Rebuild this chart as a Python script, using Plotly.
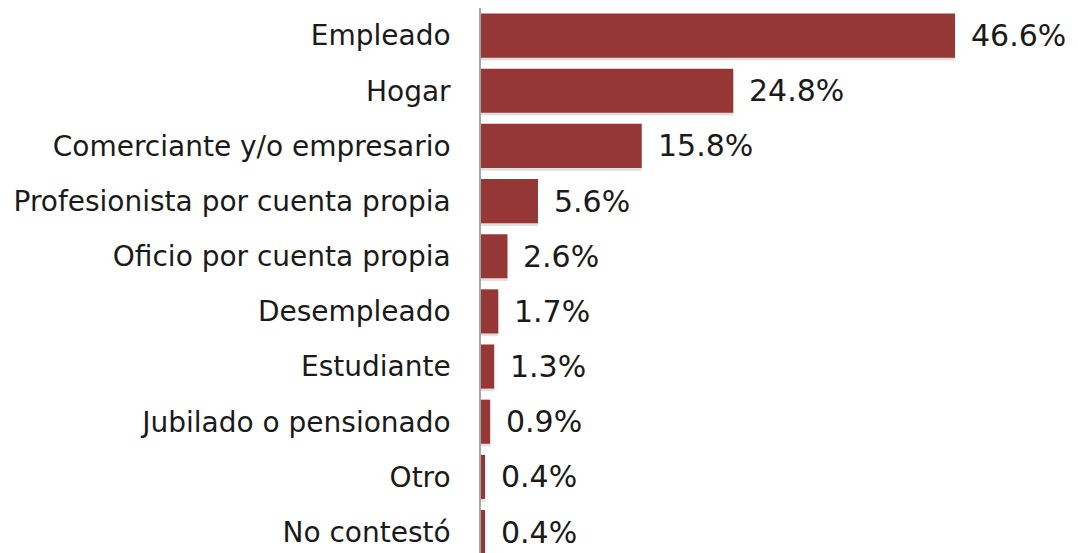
import plotly.graph_objects as go

categories = ["Empleado", "Hogar", "Comerciante y/o empresario",
              "Profesionista por cuenta propia", "Oficio por cuenta propia",
              "Desempleado", "Estudiante", "Jubilado o pensionado", "Otro",
              "No contestó"]
values = [46.6, 24.8, 15.8, 5.6, 2.6, 1.7, 1.3, 0.9, 0.4, 0.4]
value_labels = [f"{v:.1f}%" for v in values]

pos = list(range(len(categories)))
bar_color = "#953735"
font_family = "DejaVu Sans, Verdana, sans-serif"

fig = go.Figure()
# soft shadow behind bars
fig.add_trace(go.Bar(
    y=pos, x=values, orientation="h", width=0.8, offset=-0.35,
    marker=dict(color="rgba(0,0,0,0.12)", line=dict(width=0)),
    hoverinfo="skip", showlegend=False,
))
fig.add_trace(go.Bar(
    y=pos, x=values, orientation="h", width=0.8, offset=-0.4,
    marker=dict(color=bar_color, line=dict(width=0)),
    showlegend=False,
))

for p, v, t in zip(pos, values, value_labels):
    fig.add_annotation(x=v, y=p, text=t, xanchor="left", yanchor="middle",
                       xshift=14, showarrow=False,
                       font=dict(size=30, color="#1a1a1a", family=font_family))

fig.update_layout(
    width=1078, height=553,
    margin=dict(l=473, r=15, t=0, b=8),
    paper_bgcolor="white", plot_bgcolor="white",
    barmode="overlay",
    font=dict(family=font_family, color="#1a1a1a"),
)
fig.update_xaxes(range=[0, 58], visible=False, showgrid=False, zeroline=False)
fig.update_yaxes(
    range=[9.38, -0.5], tickmode="array", tickvals=pos, ticktext=categories,
    showgrid=False, zeroline=False, showline=True, linecolor="#a6a6a6",
    linewidth=1.5, ticks="", ticklabelstandoff=23,
    tickfont=dict(size=28, color="#1a1a1a", family=font_family),
)

fig.write_html("out.html")
